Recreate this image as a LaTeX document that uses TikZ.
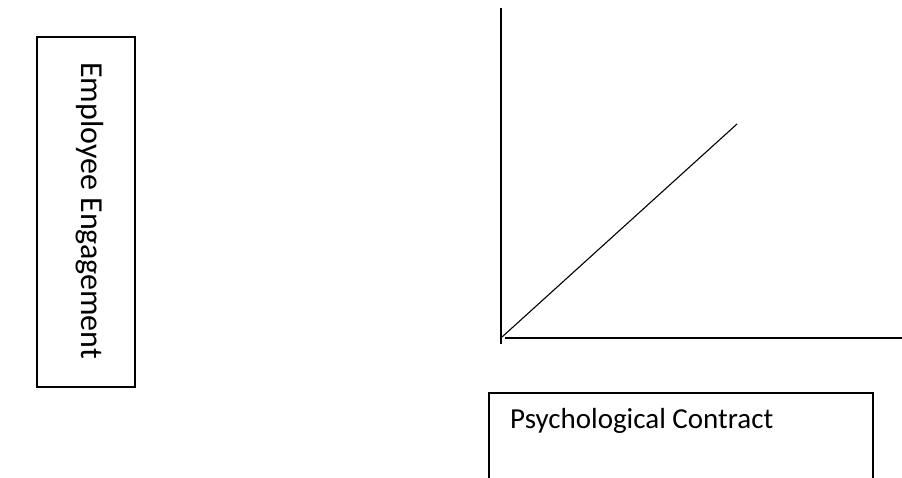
\documentclass[tikz,border=0pt]{standalone}
\usepackage{fontspec}
\setmainfont{Carlito}
\tikzset{
  frame/.style={line width=1.3pt},
  label/.style={font=\fontsize{29}{34}\selectfont,inner sep=0pt},
  biglabel/.style={font=\fontsize{32}{38}\selectfont,inner sep=0pt}
}

\begin{document}
\begin{tikzpicture}[x=1pt,y=-1pt,line cap=butt]
  \useasboundingbox (0,0) rectangle (902,477);

  % engagement box
  \coordinate (EA) at (37,37);
  \coordinate (EB) at (135,387);
  \draw[frame] (EA) rectangle (EB);
  \node[biglabel,rotate=-90,anchor=base west] (engage) at (81,62) {Employee Engagement};

  % axes
  \coordinate (O) at (501,338);
  \coordinate (Ytop) at (501,8);
  \coordinate (Ybot) at (501,344);
  \coordinate (Xend) at (905,338);
  \coordinate (D) at (737,124);
  \draw[frame] (Ytop) -- (Ybot);
  \draw[frame] (O) ++(4,0) -- (Xend);
  \draw[line width=1.1pt] (O) ++(1,-1) -- (D);

  % contract box
  \coordinate (CA) at (489,393);
  \coordinate (CB) at (873,393);
  \draw[frame] (CA |- 0,480) -- (CA) -- (CB) -- (CB |- 0,480);
  \node[label,anchor=base west] (contract) at (510,428) {Psychological Contract};
\end{tikzpicture}
\end{document}
